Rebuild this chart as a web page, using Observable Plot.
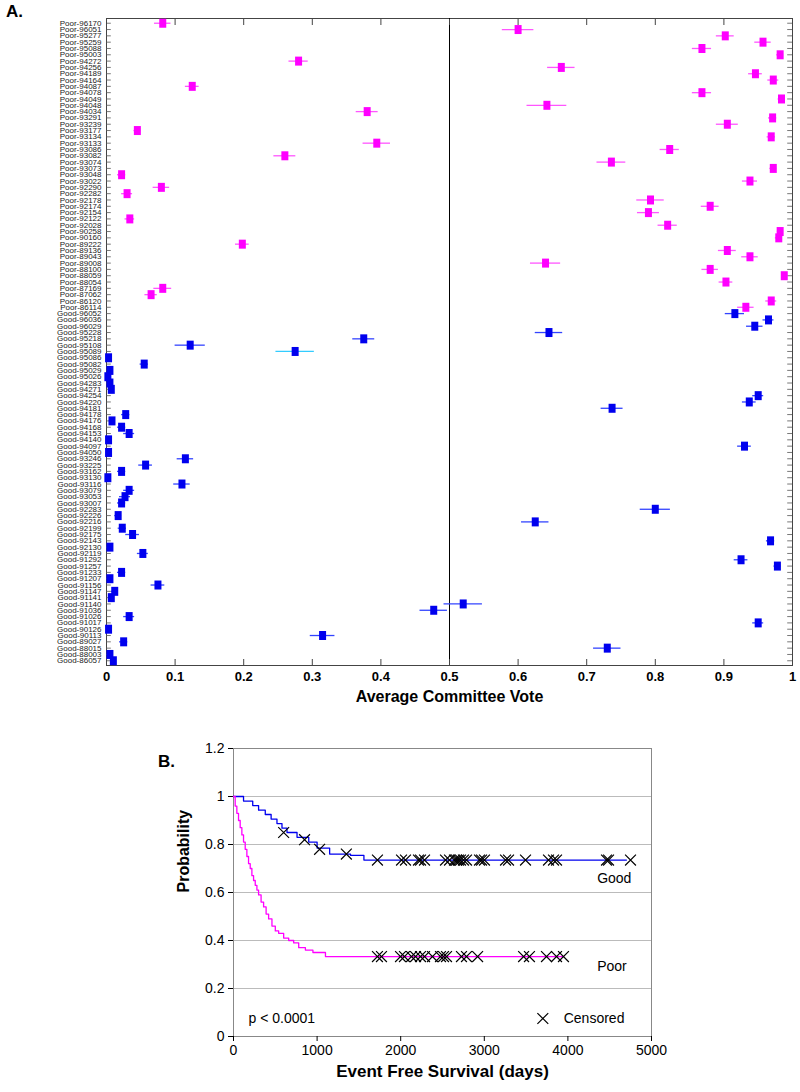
<!DOCTYPE html>
<html><head><meta charset="utf-8">
<script src="https://cdn.jsdelivr.net/npm/d3@7"></script>
<script src="https://cdn.jsdelivr.net/npm/@observablehq/plot@0.6"></script>
<style>
body{margin:0;background:#fff;font-family:Arial,"Liberation Sans",sans-serif;}
#wrap{position:relative;width:800px;height:1092px;overflow:hidden;}
.abs{position:absolute;left:0;}
.lbl{position:absolute;font-weight:bold;font-size:17px;}
</style></head><body>
<div id="wrap">
<div id="a" class="abs" style="top:0"></div>
<div id="b" class="abs" style="top:730px"></div>
<div class="lbl" style="left:6px;top:2px;">A.</div>
<div class="lbl" style="left:158px;top:752px;">B.</div>
</div>
<script>
const poorIds = ["96170","96051","95277","95259","95088","95003","94272","94256","94189","94164","94087","94078","94049","94048","94034","93291","93239","93177","93134","93133","93086","93082","93074","93073","93048","93022","92290","92282","92178","92174","92154","92122","92028","90258","90160","89222","89136","89043","89008","88100","88059","88054","87169","87062","86120","86114"];
const poorVotes = [0.082,0.600,0.902,0.957,0.868,0.982,0.280,0.663,0.946,0.972,0.125,0.868,0.984,0.642,0.380,0.971,0.905,0.045,0.969,0.394,0.821,0.260,0.736,0.972,0.022,0.938,0.080,0.030,0.793,0.880,0.790,0.034,0.818,0.982,0.980,0.198,0.905,0.938,0.640,0.880,0.988,0.903,0.082,0.065,0.969,0.932];
const poorErr = [0.012,0.023,0.013,0.012,0.014,0.005,0.014,0.020,0.010,0.008,0.010,0.014,0.005,0.029,0.016,0.006,0.016,0.005,0.006,0.020,0.014,0.016,0.021,0.005,0.006,0.011,0.012,0.008,0.020,0.013,0.016,0.007,0.014,0.004,0.005,0.010,0.013,0.012,0.022,0.012,0.004,0.010,0.013,0.009,0.008,0.012];
const goodIds = ["96052","96036","96029","95228","95218","95108","95089","95086","95082","95029","95026","94283","94271","94254","94220","94181","94178","94176","94168","94153","94140","94097","94050","93246","93225","93162","93130","93116","93079","93053","93007","92283","92226","92216","92199","92175","92143","92130","92119","91292","91257","91233","91207","91156","91147","91141","91140","91036","91026","91017","90126","90113","89027","88015","88003","86057"];
const goodVotes = [0.916,0.965,0.945,0.645,0.375,0.122,0.275,0.003,0.055,0.005,0.002,0.005,0.007,0.950,0.937,0.737,0.028,0.008,0.022,0.033,0.003,0.930,0.003,0.115,0.057,0.022,0.002,0.110,0.033,0.027,0.022,0.800,0.017,0.625,0.023,0.038,0.968,0.005,0.053,0.925,0.978,0.022,0.005,0.075,0.012,0.007,0.520,0.477,0.033,0.950,0.003,0.315,0.025,0.730,0.005,0.010];
const goodErr = [0.014,0.008,0.012,0.020,0.016,0.022,0.028,0.003,0.006,0.003,0.002,0.004,0.004,0.008,0.010,0.016,0.006,0.004,0.006,0.008,0.003,0.010,0.003,0.012,0.010,0.006,0.002,0.012,0.008,0.008,0.006,0.022,0.005,0.020,0.006,0.010,0.006,0.004,0.008,0.010,0.005,0.006,0.004,0.010,0.005,0.004,0.028,0.020,0.008,0.008,0.003,0.018,0.006,0.020,0.004,0.004];
const xTicks = [0,0.1,0.2,0.3,0.4,0.5,0.6,0.7,0.8,0.9,1];

// Panel B data
const goodSurvT = [0,120,230,300,380,450,520,580,640,760,900,1000,1150,1400,1560,4700];
const goodSurvP = [1,0.981,0.962,0.943,0.925,0.906,0.887,0.868,0.85,0.83,0.81,0.785,0.76,0.755,0.735,0.735];
const poorSurvT = [0,20,40,60,80,100,120,140,160,180,200,220,240,260,280,300,330,360,390,420,460,500,540,600,660,720,780,860,950,1100,3950];
const poorSurvP = [1,0.96,0.93,0.9,0.87,0.84,0.81,0.78,0.75,0.72,0.7,0.67,0.65,0.63,0.61,0.59,0.56,0.54,0.51,0.49,0.46,0.44,0.43,0.41,0.4,0.39,0.37,0.36,0.35,0.333,0.333];
const goodCensT = [600,850,1030,1350,1722,2010,2057,2213,2237,2285,2536,2584,2643,2667,2691,2715,2751,2787,2943,2967,3002,3254,3290,3493,3768,3828,3864,4462,4486,4749];
const goodCensP = [0.85,0.82,0.78,0.76,0.735,0.735,0.735,0.735,0.735,0.735,0.735,0.735,0.735,0.735,0.735,0.735,0.735,0.735,0.735,0.735,0.735,0.735,0.735,0.735,0.735,0.735,0.735,0.735,0.735,0.735];
const poorCensT = [1722,1770,1998,2045,2129,2177,2237,2285,2380,2476,2512,2548,2727,2787,2920,3470,3540,3744,3864,3947];
const yTicksB = [0,0.2,0.4,0.6,0.8,1,1.2];
const xTicksB = [0,1000,2000,3000,4000,5000];

const MAG = "#ff00ff", BLUE = "#0000ee";
const rows = [
  ...poorIds.map((id,i)=>({label:"Poor-"+id, v:poorVotes[i], e:poorErr[i], g:"Poor"})),
  ...goodIds.map((id,i)=>({label:"Good-"+id, v:goodVotes[i], e:goodErr[i], g:"Good"}))
];
const labels = rows.map(r=>r.label);
const rectSym = {draw(ctx){ ctx.rect(-3.5,-4.5,7,9); }};
const font = "Arial, 'Liberation Sans', sans-serif";
const none = () => "";

const A = Plot.plot({
  width: 800, height: 715,
  marginLeft: 106, marginRight: 8, marginTop: 18, marginBottom: 50,
  style: {fontFamily: font, background: "#fff"},
  x: {domain: [0,1], label: null},
  y: {type: "point", domain: labels, padding: 0.75, label: null},
  marks: [
    Plot.frame({stroke: "#444"}),
    Plot.ruleX([0.5], {stroke: "#000", strokeWidth: 1}),
    Plot.ruleY(labels, {y: d=>d, x1: 0, x2: 0.007, stroke: "#555", strokeWidth: 0.8}),
    Plot.ruleY(labels, {y: d=>d, x1: 0.993, x2: 1, stroke: "#555", strokeWidth: 0.8}),
    Plot.axisY({anchor: "left", tickSize: 0, tickPadding: 5, fontSize: 8, fill: "#222", label: null}),
    Plot.axisX(xTicks, {anchor: "top", tickSize: 6, dy: 6, tickFormat: none, label: null, stroke: "#444"}),
    Plot.axisX(xTicks, {anchor: "bottom", tickSize: 6, dy: -6, tickFormat: none, label: null, stroke: "#444"}),
    Plot.axisX(xTicks, {anchor: "bottom", tickSize: 0, tickPadding: 6, fontSize: 13, fontWeight: "bold", tickFormat: d=>String(d), label: null}),
    Plot.ruleY(rows, {y: "label", x1: d=>d.v-d.e, x2: d=>d.v+d.e, stroke: d=> d.label==="Good-95089" ? "#33ccff" : (d.g==="Poor" ? "#ff55ff" : "#3344ff"), strokeWidth: 1.3}),
    Plot.dot(rows, {x: "v", y: "label", symbol: rectSym, fill: d=>d.g==="Poor"?MAG:BLUE, stroke: "none"}),
    Plot.text(["Average Committee Vote"], {frameAnchor: "bottom", dy: 36, fontSize: 16, fontWeight: "bold", fill: "#000"})
  ]
});
document.getElementById("a").appendChild(A);

const gLine = goodSurvT.map((t,i)=>({t, p: goodSurvP[i]}));
const pLine = poorSurvT.map((t,i)=>({t, p: poorSurvP[i]}));
const gC = goodCensT.map((t,i)=>({t, p: goodCensP[i]}));
const pC = poorCensT.map(t=>({t, p: 0.333}));
const B = Plot.plot({
  width: 800, height: 362,
  marginLeft: 233, marginRight: 149, marginTop: 18, marginBottom: 56,
  style: {fontFamily: font, background: "transparent"},
  x: {domain: [0,5000], label: null},
  y: {domain: [0,1.2], label: null},
  marks: [
    Plot.gridY(yTicksB.filter(d=>d>0 && d<1.2), {stroke: "#bbb", strokeOpacity: 1}),
    Plot.frame({stroke: "#888"}),
    Plot.axisY(yTicksB, {anchor: "left", tickSize: 5, tickPadding: 4, fontSize: 14, label: null, tickFormat: d=>String(d)}),
    Plot.axisX(xTicksB, {anchor: "bottom", tickSize: 5, tickPadding: 4, fontSize: 14, label: null, tickFormat: d=>String(d)}),
    Plot.line(gLine, {x: "t", y: "p", curve: "step-after", stroke: BLUE, strokeWidth: 1.3}),
    Plot.line(pLine, {x: "t", y: "p", curve: "step-after", stroke: MAG, strokeWidth: 1.3}),
    Plot.dot(gC, {x: "t", y: "p", symbol: "times", r: 5, stroke: "#000", strokeWidth: 1.2}),
    Plot.dot(pC, {x: "t", y: "p", symbol: "times", r: 5, stroke: "#000", strokeWidth: 1.2}),
    Plot.text(["Good"], {x: 4350, y: 0.66, fontSize: 14, textAnchor: "start"}),
    Plot.text(["Poor"], {x: 4350, y: 0.29, fontSize: 14, textAnchor: "start"}),
    Plot.text(["p < 0.0001"], {x: 180, y: 0.075, fontSize: 14, textAnchor: "start"}),
    Plot.dot([{t: 3700, p: 0.075}], {x: "t", y: "p", symbol: "times", r: 5, stroke: "#000", strokeWidth: 1.2}),
    Plot.text(["Censored"], {x: 3950, y: 0.075, fontSize: 14, textAnchor: "start"}),
    Plot.text(["Probability"], {frameAnchor: "left", dx: -50, rotate: -90, fontSize: 16, fontWeight: "bold"}),
    Plot.text(["Event Free Survival (days)"], {frameAnchor: "bottom", dy: 40, fontSize: 17, fontWeight: "bold"})
  ]
});
document.getElementById("b").appendChild(B);
</script>
</body></html>
